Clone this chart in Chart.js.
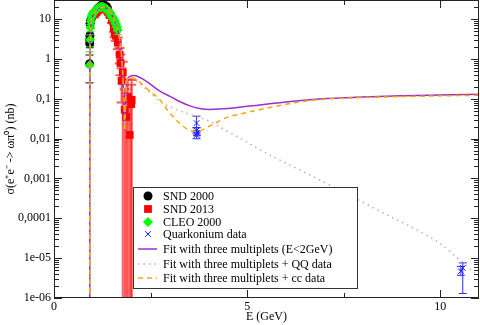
<!DOCTYPE html>
<html>
<head>
<meta charset="utf-8">
<script src="https://cdn.jsdelivr.net/npm/chart.js@4.4.0/dist/chart.umd.min.js"></script>
<style>
  html, body { margin: 0; padding: 0; background: #fff; }
</style>
</head>
<body>
<canvas id="chart" width="480" height="325"></canvas>
<script>
// axes
const xTicks = [0, 5, 10];
const xMinor = [2.5, 7.5];
const yTicks = [1e-6, 1e-5, 1e-4, 1e-3, 1e-2, 1e-1, 1, 10];
const yTickLabels = ['1e-06', '1e-05', '0,0001', '0,001', '0,01', '0,1', '1', '10'];

// data points: [E (GeV), sigma (nb), err down, err up]
const snd2000 = [
  [0.92, 0.75, 0.5, 0.5], [0.925, 2.4, 0.5, 0.5], [0.925, 3.0, 0.5, 0.5], [0.93, 3.8, 0.6, 0.6],
  [0.935, 7.8, 1, 1], [0.95, 9, 1, 1], [0.98, 11, 1, 1], [1.02, 13, 1, 1], [1.06, 15, 1, 1],
  [1.1, 17, 1, 1], [1.15, 19, 1, 1], [1.2, 21, 1, 1], [1.25, 23, 1, 1], [1.3, 22.5, 1, 1],
  [1.35, 21, 1, 1], [1.38, 19, 1, 1]
];
const snd2013 = [
  [1.05, 13, 1.5, 1.5], [1.1, 15, 1.5, 1.5], [1.15, 17, 1.5, 1.5], [1.2, 18.5, 1.5, 1.5],
  [1.25, 19, 1.5, 1.5], [1.3, 18.5, 1.5, 1.5], [1.35, 17.5, 1.5, 1.5], [1.4, 15, 1.5, 1.5],
  [1.45, 12.5, 1.5, 1.5], [1.5, 9.5, 1.5, 1.5], [1.55, 6, 1.2, 1.2], [1.57, 4.5, 1, 1],
  [1.6, 3.8, 1, 1], [1.65, 2.55, 0.8, 0.9], [1.7, 1.27, 0.5, 0.6], [1.72, 0.79, 0.4, 0.5],
  [1.75, 0.28, 0.2, 0.3], [1.78, 0.45, 0.45, 0.4], [1.83, 0.053, 0.06, 0.12],
  [1.87, 0.035, 0.04, 0.1], [1.91, 0.11, 0.12, 0.2], [1.96, 0.0124, 0.02, 0.08],
  [2.0, 0.073, 0.08, 0.15], [2.01, 0.094, 0.1, 0.2]
];
const cleo2000 = [
  [0.925, 0.7, 0.8, 0.8], [0.935, 3.0, 1, 1], [0.945, 6, 1.2, 1.2], [0.955, 8.5, 1.2, 1.2],
  [0.97, 11, 1.2, 1.2], [0.99, 13, 1.2, 1.2], [1.01, 14, 1.2, 1.2], [1.03, 15, 1.2, 1.2],
  [1.06, 16, 1.2, 1.2], [1.09, 17, 1.2, 1.2], [1.12, 18.2, 1.2, 1.2], [1.15, 19, 1.2, 1.2],
  [1.18, 19.8, 1.2, 1.2], [1.21, 20, 1.2, 1.2], [1.24, 20.3, 1.2, 1.2], [1.27, 20, 1.2, 1.2],
  [1.3, 19.3, 1.2, 1.2], [1.33, 18.5, 1.2, 1.2], [1.36, 17.5, 1.2, 1.2], [1.39, 16.5, 1.2, 1.2],
  [1.42, 15.2, 1.2, 1.2], [1.45, 14, 1.2, 1.2], [1.48, 12.5, 1.2, 1.2], [1.51, 11, 1.2, 1.2],
  [1.54, 10, 1.2, 1.2], [1.57, 9, 1.2, 1.2], [1.6, 7.5, 1.2, 1.2], [1.63, 6.3, 1.2, 1.2],
  [1.65, 5.3, 1.2, 1.2]
];
const quarkonium = [
  [3.69, 0.0245, 0.006, 0.012], [3.69, 0.016, 0.003, 0.003], [3.70, 0.0138, 0.002, 0.002],
  [3.69, 0.0122, 0.0023, 0.0023], [10.58, 5.7e-6, 4.4e-6, 1.9e-6], [10.53, 4.7e-6, 1e-6, 1.5e-6]
];

// fits: common part below 2 GeV
const fitLowE = [0.925, 0.928, 0.932, 0.937, 0.945, 0.955, 0.97, 1.0, 1.05, 1.1, 1.15, 1.2, 1.25,
  1.3, 1.35, 1.4, 1.45, 1.5, 1.55, 1.6, 1.65, 1.7, 1.74, 1.77, 1.8, 1.82, 1.83, 1.84, 1.86,
  1.88, 1.91, 1.96];
const fitLowSigma = [1e-7, 0.05, 0.6, 2.2, 4.5, 6.8, 9, 11.5, 14, 16, 17.8, 19, 19.6,
  19.5, 18.7, 17, 15, 12.5, 10, 7.5, 5.5, 3, 1.5, 0.6, 0.15, 0.04, 0.016, 0.03, 0.12,
  0.25, 0.32, 0.36];

const fit2GeVE = [2.06, 2.2, 2.4, 2.74, 3.0, 3.25, 3.5, 3.77, 4.03, 4.28, 4.8, 5.32, 6.0, 6.87, 8, 9, 10, 11];
const fit2GeVSigma = [0.38, 0.35, 0.27, 0.155, 0.115, 0.085, 0.067, 0.057, 0.054, 0.055, 0.061,
  0.07, 0.083, 0.098, 0.11, 0.118, 0.124, 0.13];

const fitQQE = [2.06, 2.2, 2.4, 2.74, 3.2, 3.6, 4.03, 4.5, 4.89, 5.3, 5.75, 6.5, 7.5, 8.5, 9.5, 10, 10.5, 11];
const fitQQSigma = [0.3, 0.25, 0.17, 0.086, 0.052, 0.038, 0.027, 0.015, 0.0093, 0.0055, 0.0032,
  1.4e-3, 4.5e-4, 1.4e-4, 4.5e-5, 2.3e-5, 9e-6, 3.5e-6];

const fitCCE = [2.06, 2.2, 2.4, 2.74, 2.95, 3.1, 3.3, 3.6, 3.8, 3.94, 4.2, 4.46, 4.9, 5.32, 5.75,
  6.17, 6.87, 8, 9, 10, 11];
const fitCCSigma = [0.33, 0.27, 0.18, 0.094, 0.05, 0.034, 0.022, 0.0152, 0.016, 0.0187, 0.025,
  0.0335, 0.043, 0.053, 0.065, 0.078, 0.095, 0.107, 0.113, 0.118, 0.122];

function pts(arr) { return arr.map(p => ({x: p[0], y: p[1]})); }
function curve(xs, ys) { return xs.map((x, i) => ({x: x, y: ys[i]})); }

const serif = 'Liberation Serif';

// error bars drawn just before each dataset's markers
const errorBars = {
  id: 'errorBars',
  beforeDatasetDraw(chart, args) {
    const ds = chart.data.datasets[args.index];
    if (!ds.errors) return;
    const {ctx, chartArea: a} = chart;
    const x = chart.scales.x, y = chart.scales.y;
    const cap = ds.errCap;
    ctx.save();
    ctx.beginPath();
    ctx.rect(a.left, a.top, a.right - a.left, a.bottom - a.top);
    ctx.clip();
    ctx.strokeStyle = ds.errColor;
    ctx.lineWidth = ds.errWidth;
    ds.errors.forEach(p => {
      const px = x.getPixelForValue(p[0]);
      const lo = p[1] - p[2];
      const yLo = lo > 0 ? y.getPixelForValue(lo) : a.bottom + 5;
      const yHi = y.getPixelForValue(p[1] + p[3]);
      ctx.beginPath();
      ctx.moveTo(px, yLo); ctx.lineTo(px, yHi);
      ctx.moveTo(px - cap, yHi); ctx.lineTo(px + cap, yHi);
      if (lo > 0) { ctx.moveTo(px - cap, yLo); ctx.lineTo(px + cap, yLo); }
      ctx.stroke();
    });
    ctx.restore();
  }
};

// frame with inward ticks on all four sides
const frame = {
  id: 'frame',
  afterDatasetsDraw(chart) {
    const {ctx, chartArea: a} = chart;
    const x = chart.scales.x, y = chart.scales.y;
    ctx.save();
    ctx.strokeStyle = '#222';
    ctx.lineWidth = 1;
    ctx.beginPath();
    ctx.rect(a.left + 0.5, a.top + 0.5, a.right - a.left - 1, a.bottom - a.top - 1);
    const tickX = (v, len) => {
      const px = Math.round(x.getPixelForValue(v)) + 0.5;
      ctx.moveTo(px, a.bottom); ctx.lineTo(px, a.bottom - len);
      ctx.moveTo(px, a.top); ctx.lineTo(px, a.top + len);
    };
    const tickY = (v, len) => {
      const py = Math.round(y.getPixelForValue(v)) + 0.5;
      ctx.moveTo(a.left, py); ctx.lineTo(a.left + len, py);
      ctx.moveTo(a.right, py); ctx.lineTo(a.right - len, py);
    };
    xTicks.forEach(v => tickX(v, 8));
    xMinor.forEach(v => tickX(v, 5));
    yTicks.forEach(d => {
      tickY(d, 8);
      for (let m = 2; m <= 9; m++) {
        if (m * d <= 30) tickY(m * d, 5);
      }
    });
    ctx.stroke();
    ctx.restore();
  }
};

// legend box inside the plot
const legendOrder = [6, 5, 4, 3, 2, 1, 0];
const boxLegend = {
  id: 'boxLegend',
  afterDraw(chart) {
    const ctx = chart.ctx;
    const bx = 133.5, by = 187.5, bw = 224, bh = 101;
    const rows = [196, 209, 222, 234, 249, 264, 278];
    ctx.save();
    ctx.fillStyle = '#fff';
    ctx.fillRect(bx, by, bw, bh);
    ctx.strokeStyle = '#333';
    ctx.lineWidth = 1;
    ctx.strokeRect(bx, by, bw, bh);
    ctx.font = '12px "' + serif + '"';
    ctx.textBaseline = 'middle';
    legendOrder.forEach((idx, r) => {
      const ds = chart.data.datasets[idx];
      const yy = rows[r];
      if (ds.showLine) {
        ctx.save();
        ctx.strokeStyle = ds.borderColor;
        ctx.lineWidth = ds.borderWidth;
        ctx.setLineDash(ds.borderDash || []);
        ctx.beginPath();
        ctx.moveTo(138, yy); ctx.lineTo(157, yy);
        ctx.stroke();
        ctx.restore();
      } else {
        ctx.save();
        ctx.fillStyle = ds.backgroundColor;
        ctx.strokeStyle = ds.borderColor;
        ctx.lineWidth = ds.borderWidth;
        Chart.helpers.drawPoint(ctx, {pointStyle: ds.pointStyle, radius: ds.pointRadius, rotation: 0, borderWidth: ds.borderWidth}, 148, yy);
        ctx.restore();
      }
      ctx.fillStyle = '#000';
      ctx.fillText(ds.label, 163, yy + 1);
    });
    ctx.restore();
  }
};

new Chart(document.getElementById('chart'), {
  type: 'scatter',
  data: {
    datasets: [
      { label: 'Fit with three multiplets + cc data', data: curve(fitLowE.concat(fitCCE), fitLowSigma.concat(fitCCSigma)),
        showLine: true, pointRadius: 0, borderColor: '#ffa500', borderWidth: 1.5, borderDash: [5, 4],
        cubicInterpolationMode: 'monotone', order: 0 },
      { label: 'Fit with three multiplets + QQ data', data: curve(fitLowE.concat(fitQQE), fitLowSigma.concat(fitQQSigma)),
        showLine: true, pointRadius: 0, borderColor: '#d8a4ae', borderWidth: 1.5, borderDash: [1.5, 4],
        cubicInterpolationMode: 'monotone', order: 1 },
      { label: 'Fit with three multiplets (E<2GeV)', data: curve(fitLowE.concat(fit2GeVE), fitLowSigma.concat(fit2GeVSigma)),
        showLine: true, pointRadius: 0, borderColor: '#9a2fd0', borderWidth: 1.5,
        cubicInterpolationMode: 'monotone', order: 2 },
      { label: 'Quarkonium data', data: pts(quarkonium), errors: quarkonium,
        errColor: '#2a2aff', errWidth: 1, errCap: 4,
        pointStyle: 'crossRot', pointRadius: 4, borderColor: '#1a1aff', backgroundColor: '#1a1aff', borderWidth: 1, order: 3 },
      { label: 'CLEO 2000', data: pts(cleo2000), errors: cleo2000,
        errColor: '#22ee22', errWidth: 1, errCap: 4,
        pointStyle: 'rectRot', pointRadius: 5, borderColor: '#00ff00', backgroundColor: '#00ff00', borderWidth: 0, order: 4 },
      { label: 'SND 2013', data: pts(snd2013), errors: snd2013,
        errColor: 'rgba(255,40,40,0.75)', errWidth: 2, errCap: 5,
        pointStyle: 'rect', pointRadius: 5.5, borderColor: '#ff0000', backgroundColor: '#ff0000', borderWidth: 0, order: 5 },
      { label: 'SND 2000', data: pts(snd2000), errors: snd2000,
        errColor: '#000', errWidth: 1, errCap: 4,
        pointStyle: 'circle', pointRadius: 4.5, borderColor: '#000', backgroundColor: '#000', borderWidth: 0, order: 6 }
    ]
  },
  options: {
    responsive: false,
    animation: false,
    layout: { autoPadding: false, padding: { top: 0, right: 1, left: 0, bottom: 0 } },
    plugins: { legend: { display: false }, tooltip: { enabled: false } },
    scales: {
      x: {
        type: 'linear', min: 0, max: 11,
        grid: { display: false, drawTicks: false },
        border: { display: false },
        afterBuildTicks: s => { s.ticks = xTicks.map(v => ({value: v})); },
        afterFit: s => { s.height = 27; s.paddingLeft = 0; s.paddingRight = 0; },
        ticks: { padding: 2, color: '#000', maxRotation: 0, autoSkip: false, font: { family: serif, size: 12 } },
        title: { display: true, text: 'E (GeV)', color: '#000', font: { family: serif, size: 12 }, padding: { top: 0, bottom: 1 } }
      },
      y: {
        type: 'logarithmic', min: 1e-6, max: 30,
        grid: { display: false, drawTicks: false },
        border: { display: false },
        afterBuildTicks: s => { s.ticks = yTicks.map(v => ({value: v})); },
        afterFit: s => { s.width = 54; s.paddingTop = 0; s.paddingBottom = 0; },
        ticks: { padding: 3, color: '#000', autoSkip: false, font: { family: serif, size: 12 },
          callback: (v, i) => yTickLabels[i] },
        title: { display: true, text: 'σ(e⁺e⁻ -> ωπ⁰) (nb)', color: '#000', font: { family: serif, size: 12 }, padding: { top: 4, bottom: 0 } }
      }
    }
  },
  plugins: [errorBars, frame, boxLegend]
});
</script>
</body>
</html>
